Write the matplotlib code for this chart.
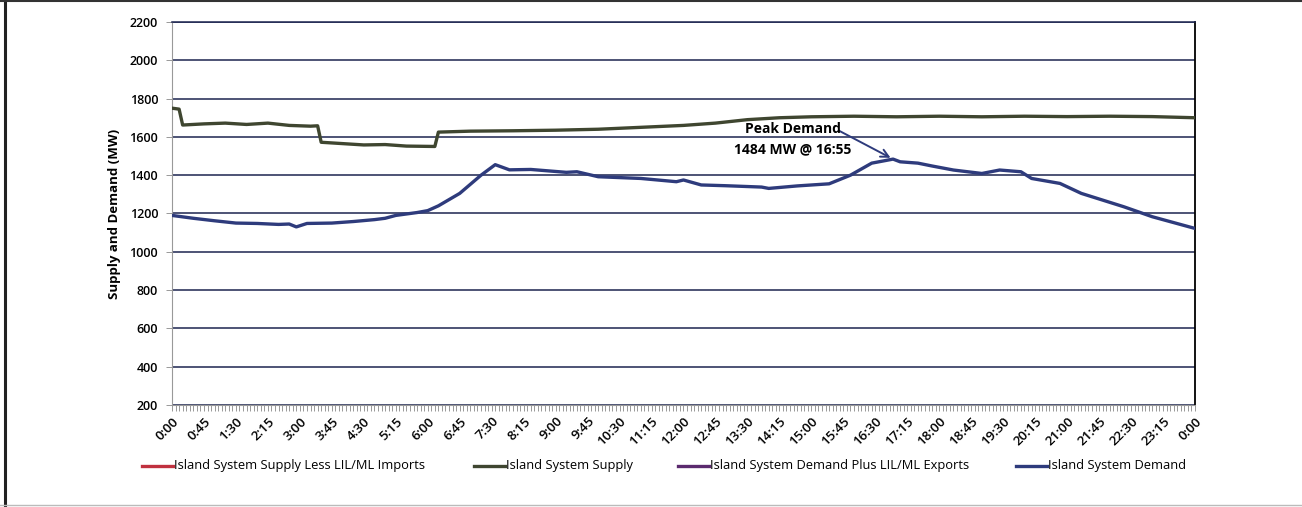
import matplotlib
matplotlib.use("Agg")
import matplotlib.pyplot as plt
from matplotlib.lines import Line2D

plt.rcParams["font.family"] = ["Open Sans", "DejaVu Sans"]

# ── Data ────────────────────────────────────────────────────────────
supply_times = ["0:00", "0:10", "0:15", "0:45", "1:15", "1:45", "2:15", "2:45",
                "3:15", "3:25", "3:30", "4:00", "4:30", "5:00", "5:30", "6:10",
                "6:15", "7:00", "8:00", "9:00", "10:00", "11:00", "12:00",
                "12:45", "13:30", "14:15", "15:00", "16:00", "17:00", "18:00",
                "19:00", "20:00", "21:00", "22:00", "23:00", "24:00"]
supply_mw = [1750, 1745, 1662, 1668, 1672, 1665, 1672, 1660,
             1656, 1658, 1572, 1565, 1558, 1560, 1552, 1550,
             1625, 1630, 1632, 1635, 1640, 1650, 1660,
             1672, 1690, 1700, 1705, 1708, 1705, 1708,
             1705, 1708, 1706, 1708, 1706, 1700]

demand_times = ["0:00", "0:30", "1:00", "1:30", "2:00", "2:30", "2:45", "2:55",
                "3:10", "3:45", "4:15", "4:45", "5:00", "5:15", "5:45", "6:00",
                "6:15", "6:45", "7:15", "7:35", "7:55", "8:25", "9:15", "9:30",
                "10:00", "11:00", "11:50", "12:00", "12:25", "13:00", "13:50",
                "14:00", "14:40", "15:25", "15:55", "16:25", "16:55", "17:05",
                "17:30", "17:50", "18:20", "19:00", "19:25", "19:55", "20:10",
                "20:50", "21:20", "21:50", "22:20", "23:00", "24:00"]
demand_mw = [1190, 1175, 1162, 1150, 1148, 1143, 1145, 1130,
             1148, 1150, 1158, 1168, 1175, 1190, 1205, 1215,
             1240, 1305, 1400, 1455, 1428, 1430, 1415, 1418,
             1392, 1383, 1366, 1375, 1349, 1345, 1338,
             1331, 1344, 1355, 1400, 1463, 1484, 1470,
             1463, 1448, 1427, 1409, 1427, 1418, 1383,
             1357, 1305, 1270, 1235, 1183, 1122]

tick_labels = ["0:00", "0:45", "1:30", "2:15", "3:00", "3:45", "4:30", "5:15",
               "6:00", "6:45", "7:30", "8:15", "9:00", "9:45", "10:30", "11:15",
               "12:00", "12:45", "13:30", "14:15", "15:00", "15:45", "16:30",
               "17:15", "18:00", "18:45", "19:30", "20:15", "21:00", "21:45",
               "22:30", "23:15", "0:00"]
y_ticks = [200, 400, 600, 800, 1000, 1200, 1400, 1600, 1800, 2000, 2200]

legend_labels = ["Island System Supply Less LIL/ML Imports",
                 "Island System Supply",
                 "Island System Demand Plus LIL/ML Exports",
                 "Island System Demand"]

peak_time = "16:55"
peak_mw = 1484

RED = "#c0313f"
OLIVE = "#3f4630"
PURPLE = "#5b2a6e"
NAVY = "#2e3b7c"
GRID = "#1c2550"


def to_min(s):
    h, m = s.split(":")
    return int(h) * 60 + int(m)


fig = plt.figure(figsize=(13.02, 5.07), dpi=100)
ax = fig.add_axes([0.1321, 0.2012, 0.7857, 0.7554])

ax.plot([to_min(t) for t in supply_times], supply_mw, color=OLIVE, lw=2.4,
        zorder=3)
ax.plot([to_min(t) for t in demand_times], demand_mw, color=NAVY, lw=2.4,
        zorder=4)

ax.set_xlim(0, 1440)
ax.set_ylim(200, 2200)

# ── Axes / ticks ────────────────────────────────────────────────────
ax.set_xticks([i * 45 for i in range(len(tick_labels))])
ax.set_xticklabels(tick_labels, rotation=45, ha="right", rotation_mode="anchor",
                   fontsize=9.5, fontweight="semibold")
ax.set_xticks(range(0, 1441, 5), minor=True)
ax.tick_params(axis="x", which="both", length=4, width=0.6, color="#888888",
               pad=3)
ax.set_yticks(y_ticks)
ax.set_yticklabels([str(v) for v in y_ticks], fontsize=9, fontweight="semibold")
ax.tick_params(axis="y", length=4, width=0.6, color="#888888", pad=6)

ax.yaxis.grid(True, color=GRID, lw=1.1)
ax.set_axisbelow(True)
for side in ("left", "bottom"):
    ax.spines[side].set_color("#999999")
    ax.spines[side].set_linewidth(0.8)
ax.spines["top"].set_color(GRID)
ax.spines["top"].set_linewidth(1.1)
ax.spines["right"].set_color("black")
ax.spines["right"].set_linewidth(1.3)

ax.set_ylabel("Supply and Demand (MW)", fontsize=9.5, fontweight="bold",
              labelpad=6)

# ── Peak annotation ─────────────────────────────────────────────────
ax.annotate("", xy=(to_min(peak_time), peak_mw), xytext=(935, 1640),
            arrowprops=dict(arrowstyle="->", color=NAVY, lw=1.4,
                            mutation_scale=14), zorder=5)
ax.text(874, 1640, "Peak Demand", ha="center", va="center", fontsize=10,
        fontweight="bold", zorder=6)
ax.text(874, 1535, f"{peak_mw} MW @ {peak_time}", ha="center", va="center",
        fontsize=10, fontweight="bold", zorder=6)

# ── Legend (entries placed like the Excel legend) ───────────────────
legend_colors = [RED, OLIVE, PURPLE, NAVY]
legend_x = [142, 474, 678, 1016]   # pixel start of each handle
W, H = 1302, 507
ly = 1 - 466 / H
for x0, col, lab in zip(legend_x, legend_colors, legend_labels):
    fig.add_artist(Line2D([x0 / W, (x0 + 31) / W], [ly, ly], color=col, lw=2.4,
                          transform=fig.transFigure))
    fig.text((x0 + 32) / W, ly, lab, ha="left", va="center", fontsize=9.3)

# ── Scan frame ──────────────────────────────────────────────────────
fig.add_artist(Line2D([0.004, 0.004], [0.0, 1.0], color="#222222", lw=2.2,
                      transform=fig.transFigure))
fig.add_artist(Line2D([0.0, 1.0], [0.998, 0.998], color="#333333", lw=1.5,
                      transform=fig.transFigure))
fig.add_artist(Line2D([0.0, 1.0], [0.004, 0.004], color="#bbbbbb", lw=1.0,
                      transform=fig.transFigure))

fig.savefig("out.png", dpi=100, facecolor="white")
